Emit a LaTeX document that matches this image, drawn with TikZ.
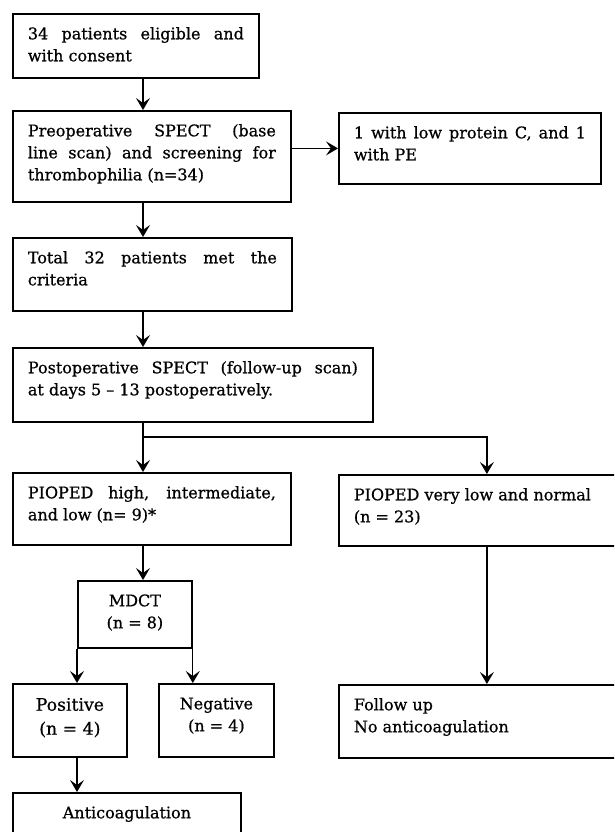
\documentclass[tikz,border=0pt]{standalone}
\usepackage{fontspec}
\setmainfont{DejaVu Serif}[BoldFont={DejaVu Serif}, BoldFeatures={FakeBold=0.7}]
\usepackage{xcolor}
\usepackage{tikz}
\usetikzlibrary{arrows.meta}

% text block of a box: width, height, text (top aligned)
\newcommand{\boxtext}[3]{\parbox[c][#2][t]{#1}{\strut#3}}

\begin{document}
\begin{tikzpicture}[x=1pt,y=-1pt]
	\tikzstyle{box}=[draw, line width=1.8pt, anchor=north west, inner xsep=15pt, inner ysep=10pt, font=\bfseries\fontsize{16}{22}\selectfont]
	\tikzset{edge/.style = {-{Stealth[length=12pt, width=14pt, inset=5pt]}, line width=1.3pt}}

	\useasboundingbox (0,0) rectangle (614,832);
	\clip (0,0) rectangle (614,832);

	% column of the main arrows
	\coordinate (col) at (143,0);

	% main line
	\node[box](eligible) at (12,13)  {\boxtext{216pt}{44pt}{34 patients eligible and\linebreak with consent}};
	\node[box](preop)    at (12,110) {\boxtext{248pt}{71pt}{Preoperative SPECT (base\linebreak line scan) and screening for\linebreak thrombophilia (n=34)}};
	\node[box](excluded) at (338,112) {\boxtext{232pt}{51pt}{1 with low protein C, and 1\linebreak with PE}};
	\node[box](criteria) at (12,237) {\boxtext{249pt}{53pt}{Total 32 patients met the\linebreak criteria}};
	\node[box](postop)   at (12,347) {\boxtext{330pt}{54pt}{Postoperative SPECT (follow-up scan)\linebreak at days 5 -- 13 postoperatively.}};
	\draw[edge](eligible.south -| col) to (preop.north -| col);
	\draw[edge](excluded.west -| preop.east) to (excluded.west);
	\draw[edge](preop.south -| col) to (criteria.north -| col);
	\draw[edge](criteria.south -| col) to (postop.north -| col);

	% split after the scan
	\node[box](high) at (12,472)  {\boxtext{248pt}{52pt}{PIOPED high, intermediate,\linebreak and low (n= 9)*}};
	\node[box](low)  at (338,474) {\boxtext{266pt}{51pt}{PIOPED very low and normal\newline (n = 23)}};
	\coordinate (split) at (143,437);
	\draw[edge](postop.south -| col) -- (split) -- (high.north -| col);
	\draw[edge](split) -| (low.north);

	% MDCT branch
	\node[box](mdct)     at (77,580)  {\boxtext{84pt}{47pt}{\centering MDCT\\(n = 8)}};
	\node[box, font=\bfseries\fontsize{17.3}{24}\selectfont](positive) at (12,683) {\boxtext{84pt}{53pt}{\centering Positive\\(n = 4)}};
	\node[box](negative) at (158,683) {\boxtext{85pt}{53pt}{\centering Negative\\(n = 4)}};
	\node[box](anticoag) at (12,792)  {\boxtext{198pt}{50pt}{\centering Anticoagulation}};
	\draw[edge](high.south -| col) to (mdct.north -| col);
	\draw[edge](mdct.south west) to (positive.north -| mdct.south west);
	\draw[edge](mdct.south east) to (negative.north -| mdct.south east);
	\draw[edge](positive.south -| mdct.south west) to (anticoag.north -| mdct.south west);

	% follow up branch
	\node[box](followup) at (338,684) {\boxtext{266pt}{53pt}{Follow up\newline No anticoagulation}};
	\draw[edge](low.south) to (followup.north);
\end{tikzpicture}
\end{document}
